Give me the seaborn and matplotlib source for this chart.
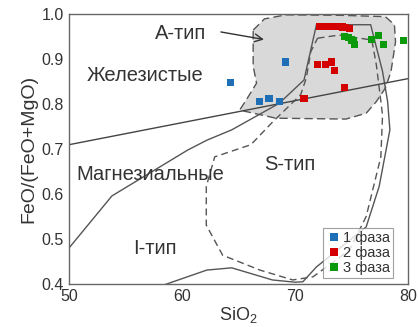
import matplotlib
matplotlib.use("Agg")
import matplotlib.pyplot as plt
import seaborn as sns
import pandas as pd

# points: SiO2 and FeO/(FeO+MgO) for each phase
phase1_x = [64.3, 66.9, 67.7, 68.6, 69.2]
phase1_y = [0.849, 0.806, 0.812, 0.806, 0.894]
phase2_x = [70.8, 72.0, 72.7, 73.2, 73.5, 74.4, 72.2, 72.7, 73.2, 73.7, 74.2, 74.5, 74.8]
phase2_y = [0.812, 0.889, 0.889, 0.894, 0.876, 0.837, 0.974, 0.974, 0.974, 0.974, 0.972, 0.970, 0.968]
phase3_x = [74.4, 74.7, 75.0, 75.2, 75.3, 76.8, 77.4, 77.8, 79.6]
phase3_y = [0.950, 0.948, 0.943, 0.941, 0.932, 0.945, 0.954, 0.934, 0.942]
phase_names = ["1 фаза", "2 фаза", "3 фаза"]

# Frost line
frost_x = [50, 80]
frost_y = [0.71, 0.857]

# solid boundary
solid_x = [50, 53.8, 60.5, 62.2, 64.4, 68.6, 70.8, 71.9, 76.7, 77.75, 78.2, 78.4, 77.45,
           76.3, 71.9, 70.7, 70.0, 68.0, 64.4, 62.2, 57.5]
solid_y = [0.48, 0.596, 0.698, 0.72, 0.743, 0.802, 0.854, 0.977, 0.977, 0.873, 0.806, 0.743, 0.617,
           0.527, 0.438, 0.405, 0.404, 0.409, 0.436, 0.431, 0.39]

# dashed boundary
dash_x = [72.0, 73.9, 76.8, 77.2, 77.75, 77.6, 76.3, 74.8, 71.6, 69.8, 66.9, 63.6, 62.15,
          62.15, 62.9, 66.1, 68.0, 70.5, 71.0, 71.4, 72.0]
dash_y = [0.947, 0.954, 0.943, 0.888, 0.776, 0.683, 0.55, 0.475, 0.416, 0.409, 0.431, 0.464, 0.531,
          0.617, 0.683, 0.71, 0.76, 0.821, 0.858, 0.917, 0.947]

# A-type field (grey)
atype_x = [66.3, 67.3, 69.2, 74.0, 78.0, 78.8, 78.9, 78.5, 78.0, 77.2, 76.3, 74.5, 68.3,
           65.1, 65.7, 66.6, 66.3, 66.3, 66.3]
atype_y = [0.965, 0.99, 0.999, 0.998, 0.995, 0.977, 0.939, 0.873, 0.836, 0.806, 0.78, 0.767, 0.769,
           0.787, 0.81, 0.847, 0.885, 0.921, 0.965]

df = pd.DataFrame({
    "x": phase1_x + phase2_x + phase3_x,
    "y": phase1_y + phase2_y + phase3_y,
    "phase": [phase_names[0]] * len(phase1_x) + [phase_names[1]] * len(phase2_x)
             + [phase_names[2]] * len(phase3_x),
})

sns.set_style("white")
plt.rcParams["font.family"] = ["Liberation Sans", "DejaVu Sans"]
plt.rcParams["mathtext.fontset"] = "custom"
plt.rcParams["mathtext.rm"] = "Liberation Sans"

fig = plt.figure(figsize=(4.18, 3.27), dpi=100)
ax = fig.add_axes([0.165, 0.1315, 0.811, 0.8245])

ax.fill(atype_x, atype_y, facecolor="#d9d9d9", edgecolor="#555555", lw=1.0, ls=(0, (6, 3)), zorder=1)
ax.plot(solid_x, solid_y, color="#555555", lw=1.0, zorder=2)
ax.plot(dash_x, dash_y, color="#555555", lw=1.0, ls=(0, (5, 3)), zorder=2)
ax.plot(frost_x, frost_y, color="#444444", lw=1.0, zorder=2)

colors = {"1 фаза": "#1f6fb6", "2 фаза": "#d40000", "3 фаза": "#0c9a0c"}
sns.scatterplot(data=df, x="x", y="y", hue="phase", palette=colors, marker="s",
                s=26, edgecolor="none", linewidth=0, ax=ax, zorder=3)

txt = "#333333"
ax.annotate("", xy=(67.5, 0.943), xytext=(63.2, 0.962),
            arrowprops=dict(arrowstyle="->", color=txt, lw=1.0, mutation_scale=14))
ax.text(59.9, 0.958, "А-тип", fontsize=14.5, ha="center", va="center", color=txt)
ax.text(56.7, 0.865, "Железистые", fontsize=14.5, ha="center", va="center", color=txt)
ax.text(57.2, 0.643, "Магнезиальные", fontsize=14.5, ha="center", va="center", color=txt)
ax.text(69.5, 0.665, "S-тип", fontsize=14.5, ha="center", va="center", color=txt)
ax.text(57.6, 0.479, "I-тип", fontsize=14.5, ha="center", va="center", color=txt)

ax.set_xlim(50, 80)
ax.set_ylim(0.4, 1.0)
ax.set_xticks([50, 60, 70, 80])
ax.set_xticks([55, 65, 75], minor=True)
ax.set_yticks([0.4, 0.5, 0.6, 0.7, 0.8, 0.9, 1.0])
ax.set_yticks([0.45, 0.55, 0.65, 0.75, 0.85, 0.95], minor=True)
ax.set_yticklabels(["0.4", "0.5", "0.6", "0.7", "0.8", "0.9", "1.0"])
ax.tick_params(which="both", direction="in", colors="#555555", labelcolor=txt, labelsize=11.5)
ax.tick_params(which="major", length=4)
ax.tick_params(which="minor", length=3)
for s in ax.spines.values():
    s.set_color("#666666")
    s.set_linewidth(1.0)

ax.set_xlabel("SiO$_2$", fontsize=13, color=txt, labelpad=1)
ax.set_ylabel("FeO/(FeO+MgO)", fontsize=14, color=txt, labelpad=3)

leg = ax.legend(loc="lower right", bbox_to_anchor=(0.957, 0.021), fontsize=10.5, frameon=True,
                handletextpad=0.1, borderpad=0.25, labelspacing=0.05, handlelength=1.0,
                borderaxespad=0.0, fancybox=False, markerscale=1.0)
leg.get_frame().set_edgecolor("#888888")
leg.get_frame().set_linewidth(0.8)
for t in leg.get_texts():
    t.set_color(txt)

fig.savefig("out.png", dpi=100)
